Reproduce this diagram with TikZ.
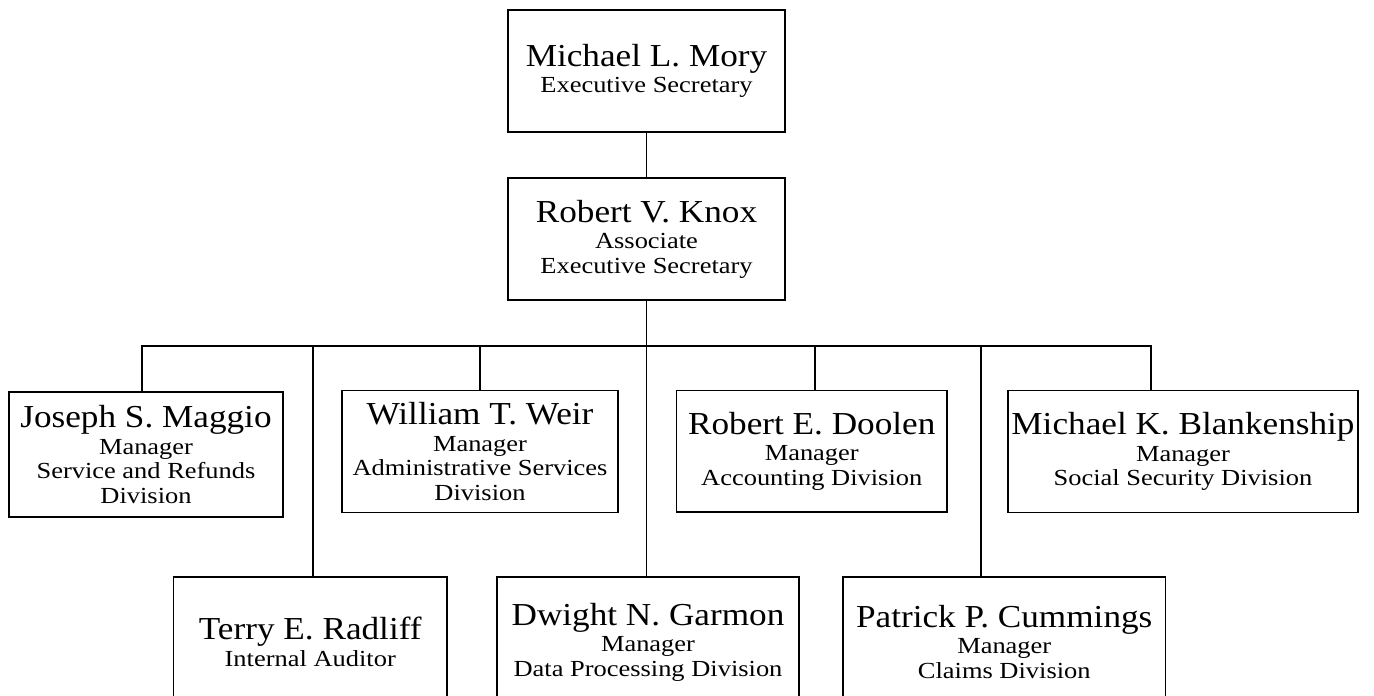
\documentclass[tikz,border=0pt]{standalone}
\usepackage{fontspec}
\setmainfont{Liberation Serif}
\newfontfamily\namefam[FakeStretch=1.1]{Liberation Serif}
\newfontfamily\subfam[FakeStretch=1.15]{Liberation Serif}
\newcommand\pname[1]{{\namefam\fontsize{32}{32}\selectfont #1}}
\begin{document}
\begin{tikzpicture}[x=1pt,y=-1pt,
  box/.style={draw, line width=1.3pt, inner sep=0pt, align=center,
              font=\subfam\fontsize{23}{24.5}\selectfont},
  link/.style={line width=1.3pt, line join=miter}]
\useasboundingbox (0,0) rectangle (1374,696);
\fill[white] (0,0) rectangle (1374,696);
\clip (0,0) rectangle (1374,696);

\node[box, minimum width=277pt, minimum height=122pt] (mory) at (646.5,71)
  {\pname{Michael L. Mory}\\[2pt] Executive Secretary};
\node[box, minimum width=277pt, minimum height=122pt] (knox) at (646.5,239)
  {\pname{Robert V. Knox}\\[2pt] Associate\\ Executive Secretary};

\node[box, minimum width=274pt, minimum height=125pt] (maggio) at (146,454.5)
  {\pname{Joseph S. Maggio}\\[2pt] Manager\\ Service and Refunds\\ Division};
\node[box, minimum width=276pt, minimum height=122pt] (weir) at (480,451.5)
  {\pname{William T. Weir}\\[2pt] Manager\\ Administrative Services\\ Division};
\node[box, minimum width=270.5pt, minimum height=121.5pt] (doolen) at (811.75,451.25)
  {\pname{Robert E. Doolen}\\[2pt] Manager\\ Accounting Division};
\node[box, minimum width=350pt, minimum height=122pt] (blank) at (1183,451.5)
  {\pname{Michael K. Blankenship}\\[2pt] Manager\\ Social Security Division};

\node[box, minimum width=273.5pt, minimum height=130pt] (radliff) at (310.25,642)
  {\pname{Terry E. Radliff}\\[2pt] Internal Auditor};
\node[box, minimum width=302pt, minimum height=130pt] (garmon) at (648,642)
  {\pname{Dwight N. Garmon}\\[2pt] Manager\\ Data Processing Division};
\node[box, minimum width=322.5pt, minimum height=130pt] (cummings) at (1004.25,642)
  {\pname{Patrick P. Cummings}\\[2pt] Manager\\ Claims Division};

\coordinate (d1) at (142,346);
\coordinate (d2) at (313,346);
\coordinate (d3) at (480,346);
\coordinate (d5) at (815,346);
\coordinate (d6) at (981,346);
\coordinate (d7) at (1151,346);

\draw[link] (mory.south) -- (knox.north);
\draw[link] (knox.south) -- (knox.south |- garmon.north);
\draw[link] (d1 |- maggio.north) -- (d1) -- (d7) -- (d7 |- blank.north);
\draw[link] (d2) -- (d2 |- radliff.north);
\draw[link] (d3) -- (d3 |- weir.north);
\draw[link] (d5) -- (d5 |- doolen.north);
\draw[link] (d6) -- (d6 |- cummings.north);
\end{tikzpicture}
\end{document}
